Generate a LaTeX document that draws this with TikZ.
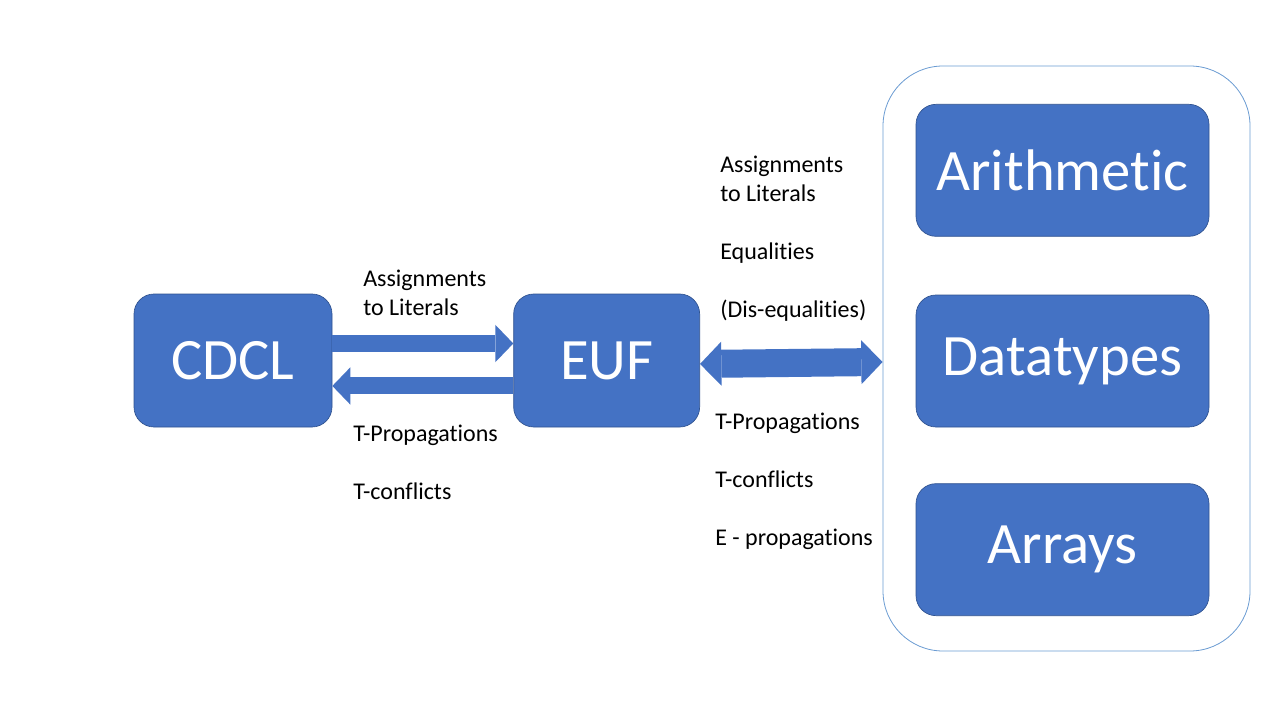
\documentclass[tikz,border=0pt]{standalone}
\usepackage{fontspec}
\setmainfont{Carlito}[Ligatures=NoCommon]
\usepackage{tikz}
\usepackage{xcolor}
\usetikzlibrary{positioning,arrows.meta}
\definecolor{box-blue}{HTML}{4472C4}
\definecolor{box-edge}{HTML}{2F528F}
\definecolor{group-edge}{HTML}{6A9BD2}
\tikzset{
    solver-box/.style = {draw=box-edge, fill=box-blue, line width=0.5pt, rectangle, rounded corners=15pt, text=white, font=\fontsize{44}{52}\selectfont, minimum height=99.75pt},
    theory-box/.style = {solver-box, minimum width=219.75pt, minimum height=99pt},
    group-box/.style = {draw=group-edge, line width=0.6pt, rectangle, rounded corners=45pt, minimum width=275.25pt, minimum height=438.75pt},
    link-label/.style = {anchor=base west, align=left, inner sep=0pt, font=\fontsize{18}{21.75}\selectfont},
    block-arrow/.style = {box-blue, line width=12.75pt, -{Triangle[length=13.5pt, width=28pt, line width=0pt]}},
    wide-arrow/.style = {box-blue, line width=21pt, {Triangle[length=16pt, width=33pt, line width=0pt]}-{Triangle[length=16pt, width=33pt, line width=0pt]}},
}

\begin{document}
\begin{tikzpicture}[x=0.75pt, y=-0.75pt]
\useasboundingbox (0,0) rectangle (1280,720);
\node [solver-box, minimum width=148.5pt] (cdcl) at (233,360.5) {CDCL};
\node [solver-box, minimum width=139.5pt, right=135.75pt of cdcl] (euf) {EUF};
\node [group-box] (theories) at (1066.5,358.5) {};
\node [theory-box] (datatypes) at (1062.5,361) {Datatypes};
\node [theory-box, above=43.5pt of datatypes] (arith) {Arithmetic};
\node [theory-box, below=42pt of datatypes] (arrays) {Arrays};
\draw [block-arrow] ([yshift=12.75pt]cdcl.east) -- ([yshift=12.75pt]euf.west);
\draw [block-arrow] ([yshift=-19.1pt]euf.west) -- ([yshift=-19.1pt]cdcl.east);
\draw [wide-arrow] ([yshift=-2.6pt]euf.east) -- ([yshift=-2.6pt]theories.west);
\node [link-label] (assign-in) at (363,315) {Assignments\\to Literals};
\node [link-label] (prop-out) at (353,499) {T-Propagations\\[21.75pt]T-conflicts};
\node [link-label] (theory-in) at (720,317) {Assignments\\to Literals\\[21.75pt]Equalities\\[21.75pt](Dis-equalities)};
\node [link-label] (theory-out) at (715,545) {T-Propagations\\[21.75pt]T-conflicts\\[21.75pt]E - propagations};
\end{tikzpicture}
\end{document}
